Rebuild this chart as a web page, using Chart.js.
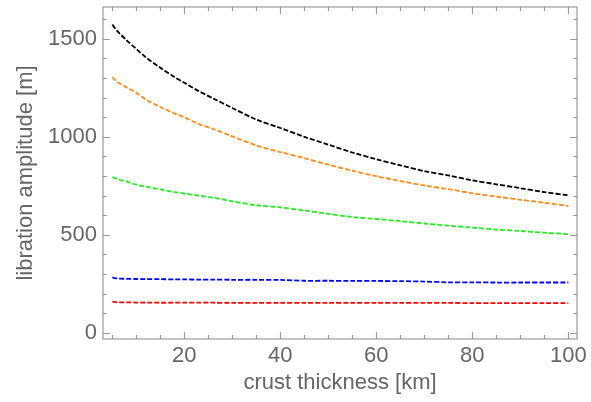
<!DOCTYPE html>
<html>
<head>
<meta charset="utf-8">
<script src="https://cdn.jsdelivr.net/npm/chart.js@4/dist/chart.umd.min.js"></script>
<style>
  html, body { margin: 0; padding: 0; background: #ffffff; }
  #wrap { width: 591px; height: 402px; position: relative; }
</style>
</head>
<body>
<div id="wrap"><canvas id="c" width="591" height="402"></canvas></div>
<script>
// crust thickness [km]
const thickness = [5, 6, 8, 10, 12, 15, 18, 20, 23, 26, 30, 35, 40, 45, 50, 55, 60, 65, 70, 75, 80, 85, 90, 95, 100];
// libration amplitude [m]
const seriesBlack  = [1572, 1540, 1492, 1448, 1405, 1352, 1304, 1276, 1233, 1196, 1147, 1088, 1045, 1000, 960, 920, 886, 855, 825, 803, 778, 758, 738, 718, 702];
const seriesOrange = [1305, 1280, 1252, 1225, 1190, 1152, 1118, 1100, 1065, 1040, 1002, 956, 922, 891, 858, 827, 799, 774, 752, 733, 712, 695, 679, 664, 647];
const seriesGreen  = [795, 785, 771, 756, 746, 732, 718, 711, 700, 690, 671, 651, 640, 624, 607, 591, 581, 570, 558, 547, 537, 527, 520, 511, 504];
const seriesBlue   = [283, 278, 276, 275, 274, 274, 273, 273, 272, 272, 271, 271, 270, 266, 266, 265, 265, 264, 262, 258, 258, 257, 257, 257, 257];
const seriesRed    = [160, 156, 156, 155, 155, 154, 154, 154, 154, 154, 153, 153, 153, 153, 153, 153, 153, 153, 153, 153, 152, 152, 152, 152, 152];

const xTickLabels = [20, 40, 60, 80, 100];
const yTickLabels = [0, 500, 1000, 1500];

function pts(vals) { return thickness.map((t, i) => ({ x: t, y: vals[i] })); }

function ds(vals, color) {
  return {
    data: pts(vals),
    borderColor: color,
    backgroundColor: color,
    showLine: true,
    borderWidth: 1.8,
    borderDash: [5, 2],
    pointRadius: 0,
    tension: 0.3
  };
}

const frameTicks = {
  id: 'frameTicks',
  afterDraw(chart) {
    const { ctx, chartArea: { left, right, top, bottom }, scales: { x, y } } = chart;
    ctx.save();
    ctx.strokeStyle = '#9a9a9a';
    ctx.lineWidth = 1.2;
    ctx.strokeRect(left, top, right - left, bottom - top);
    ctx.beginPath();
    for (let v = 5; v <= 100; v += 5) {
      const px = Math.round(x.getPixelForValue(v)) + 0.5;
      const len = v % 20 === 0 ? 7 : 4;
      ctx.moveTo(px, bottom); ctx.lineTo(px, bottom - len);
      ctx.moveTo(px, top); ctx.lineTo(px, top + len);
    }
    for (let v = 0; v <= 1600; v += 100) {
      const py = Math.round(y.getPixelForValue(v)) + 0.5;
      const len = v % 500 === 0 ? 7 : 4;
      ctx.moveTo(left, py); ctx.lineTo(left + len, py);
      ctx.moveTo(right, py); ctx.lineTo(right - len, py);
    }
    ctx.stroke();
    ctx.restore();
  }
};

const font = { family: "'Liberation Sans', Arial, sans-serif", size: 22 };

new Chart(document.getElementById('c'), {
  type: 'scatter',
  data: {
    datasets: [
      ds(seriesBlack, '#000000'),
      ds(seriesOrange, '#ff8c1a'),
      ds(seriesGreen, '#22ee22'),
      ds(seriesBlue, '#0000ff'),
      ds(seriesRed, '#ff0000')
    ]
  },
  options: {
    responsive: false,
    animation: false,
    layout: { padding: { left: 0, top: 7, right: 14, bottom: 0 } },
    plugins: { legend: { display: false }, tooltip: { enabled: false } },
    scales: {
      x: {
        type: 'linear',
        min: 3.06,
        max: 101.8,
        grid: { display: false, drawTicks: false },
        border: { display: false },
        afterBuildTicks(scale) { scale.ticks = xTickLabels.map(v => ({ value: v })); },
        ticks: { color: '#666666', font: font, padding: 4, maxRotation: 0, callback: v => String(v) },
        title: { display: true, text: 'crust thickness [km]', color: '#666666', font: font, padding: { top: 0, bottom: 6 } },
        afterFit(scale) { scale.height = 63; scale.paddingLeft = 0; scale.paddingRight = 0; }
      },
      y: {
        type: 'linear',
        min: -31,
        max: 1662,
        grid: { display: false, drawTicks: false },
        border: { display: false },
        afterBuildTicks(scale) { scale.ticks = yTickLabels.map(v => ({ value: v })); },
        ticks: { color: '#666666', font: font, padding: 6, callback: v => String(v) },
        title: { display: true, text: 'libration amplitude [m]', color: '#666666', font: font, padding: { top: 13, bottom: 0 } },
        afterFit(scale) { scale.width = 103; scale.paddingTop = 0; scale.paddingBottom = 0; }
      }
    }
  },
  plugins: [frameTicks]
});
</script>
</body>
</html>
